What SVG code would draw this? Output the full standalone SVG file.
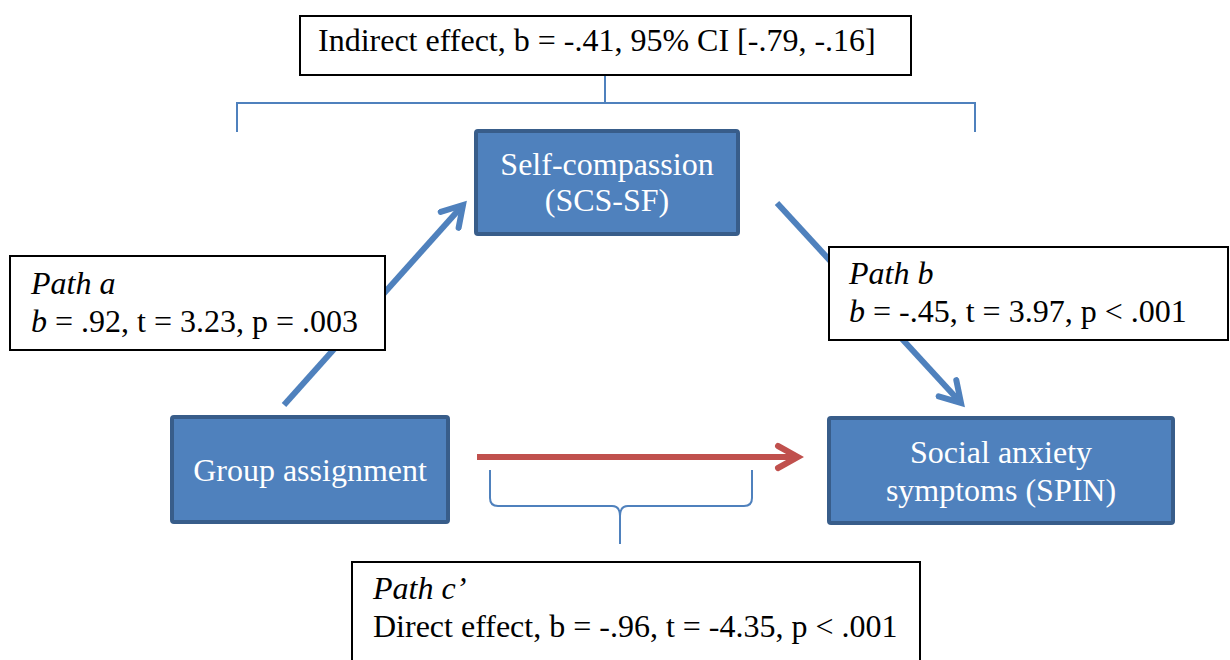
<svg xmlns="http://www.w3.org/2000/svg" width="1230" height="660" viewBox="0 0 1230 660">
<style>
.lbl{fill:#fff;stroke:#000;stroke-width:2}
.node{fill:#4F81BD;stroke:#385D8A;stroke-width:4}
.t{font-family:"Liberation Serif","Times New Roman",serif;font-size:32px;fill:#000}
.w{font-family:"Liberation Serif","Times New Roman",serif;font-size:32px;fill:#fff;text-anchor:middle}
.i{font-style:italic}
.brace{fill:none;stroke:#4F81BD;stroke-width:2}
.blue{stroke:#4F81BD;stroke-width:6;fill:none;stroke-linecap:butt}
.red{stroke:#C0504D;stroke-width:6;fill:none}
</style>
<defs>
<marker id="ab" markerUnits="userSpaceOnUse" markerWidth="30" markerHeight="30" refX="24" refY="15" orient="auto" viewBox="0 0 30 30">
<path d="M4,3 L24,15 L4,27" fill="none" stroke="#4F81BD" stroke-width="6" stroke-linecap="round" stroke-linejoin="miter"/>
</marker>
<marker id="ar" markerUnits="userSpaceOnUse" markerWidth="30" markerHeight="30" refX="24" refY="15" orient="auto" viewBox="0 0 30 30">
<path d="M4,4 L24,15 L4,26" fill="none" stroke="#C0504D" stroke-width="6" stroke-linecap="round" stroke-linejoin="miter"/>
</marker>
</defs>
<g id="connectors">
<path class="blue" d="M284,405 L463,205" marker-end="url(#ab)"/>
<path class="blue" d="M777,203 L961,403" marker-end="url(#ab)"/>
<path class="red" d="M477,457 L798,457" marker-end="url(#ar)"/>
<path class="brace" d="M605,75 L605,103 M237,132 L237,103 L975,103 L975,132"/>
<path class="brace" d="M490,470 L490,498 Q490,506 498,506 L612,506 Q620,506 620,516 L620,544 M620,516 Q620,506 628,506 L744,506 Q752,506 752,498 L752,470"/>
</g>
<g id="indirect">
<rect class="lbl" x="300" y="16" width="611" height="59"/>
<text class="t" x="318" y="51">Indirect effect, b = -.41, 95% CI [-.79, -.16]</text>
</g>
<g id="self-compassion">
<rect class="node" x="476" y="131" width="262" height="103" rx="2"/>
<text class="w" x="607" y="175">Self-compassion</text>
<text class="w" x="607" y="211">(SCS-SF)</text>
</g>
<g id="path-a">
<rect class="lbl" x="10" y="256" width="375" height="94"/>
<text class="t i" x="31" y="294">Path a</text>
<text class="t" x="31" y="332"><tspan class="i">b</tspan> = .92, t = 3.23, p = .003</text>
</g>
<g id="path-b">
<rect class="lbl" x="829" y="247" width="399" height="93"/>
<text class="t i" x="849" y="284">Path b</text>
<text class="t" x="849" y="322"><tspan class="i">b</tspan> = -.45, t = 3.97, p &lt; .001</text>
</g>
<g id="group-assignment">
<rect class="node" x="172" y="417" width="276" height="105" rx="2"/>
<text class="w" x="310" y="481">Group assignment</text>
</g>
<g id="social-anxiety">
<rect class="node" x="829" y="418" width="344" height="105" rx="2"/>
<text class="w" x="1001" y="463">Social anxiety</text>
<text class="w" x="1001" y="501">symptoms (SPIN)</text>
</g>
<g id="path-c">
<rect class="lbl" x="352" y="562" width="568" height="110"/>
<text class="t i" x="373" y="599">Path c’</text>
<text class="t" x="373" y="637">Direct effect, b = -.96, t = -4.35, p &lt; .001</text>
</g>
</svg>
